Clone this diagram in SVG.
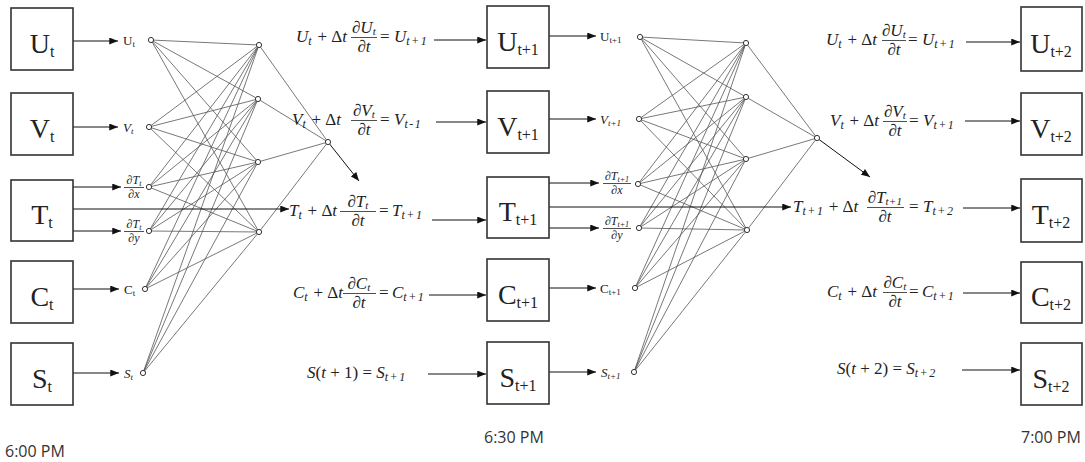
<svg xmlns="http://www.w3.org/2000/svg" width="1085" height="462" viewBox="0 0 1085 462">
<defs>
<marker id="ah" viewBox="0 0 10 8" markerWidth="9" markerHeight="7" refX="10" refY="4" orient="auto" markerUnits="userSpaceOnUse"><path d="M0,0L10,4L0,8z" fill="#111"/></marker>
<style>
.box rect{fill:#fff;stroke:#333;stroke-width:1.6}
.bl{font-family:"Liberation Serif",serif;font-size:28px;fill:#222}
.bl .s{font-size:16px}
.eq{font-family:"Liberation Serif",serif;font-style:italic;font-size:17px;fill:#222}
.eq .s{font-size:12px;letter-spacing:1.5px}
.eq .ns{font-size:11px;letter-spacing:0.3px}
.up{font-style:normal}
.lbl{font-family:"Liberation Serif",serif;font-size:13px;fill:#222}
.lbl .s{font-size:9px}
.fr{font-family:"Liberation Serif",serif;font-style:italic;font-size:12px;fill:#222}
.fr .s{font-size:8px}
.net{stroke:#555;stroke-width:0.8;fill:none}
.arr{stroke:#111;stroke-width:1;fill:none;marker-end:url(#ah)}
.nd{fill:#fff;stroke:#333;stroke-width:1}
.bar{stroke:#222;stroke-width:0.8}
.time{font-family:"Open Sans",sans-serif;font-size:16px;fill:#333}
</style>
</defs>
<rect width="1085" height="462" fill="#fff"/>

<g id="connectors">
<path class="net" d="M151 40L259 45M151 40L258 99M151 40L258 162M151 40L259 232"/>
<path class="net" d="M149 127L259 45M149 127L258 99M149 127L258 162M149 127L259 232"/>
<path class="net" d="M149 187L259 45M149 187L258 99M149 187L258 162M149 187L259 232"/>
<path class="net" d="M149 231L259 45M149 231L258 99M149 231L258 162M149 231L259 232"/>
<path class="net" d="M145 289L259 45M145 289L258 99M145 289L258 162M145 289L259 232"/>
<path class="net" d="M143 373L259 45M143 373L258 99M143 373L258 162M143 373L259 232"/>
<path class="net" d="M259 45L328 142M258 99L328 142M258 162L328 142M259 232L328 142"/>
<line class="arr" x1="328" y1="142" x2="359" y2="181"/>
<path class="net" d="M640 37L746 43M640 37L746 97M640 37L746 159M640 37L747 230"/>
<path class="net" d="M639 119L746 43M639 119L746 97M639 119L746 159M639 119L747 230"/>
<path class="net" d="M638 184L746 43M638 184L746 97M638 184L746 159M638 184L747 230"/>
<path class="net" d="M639 228L746 43M639 228L746 97M639 228L746 159M639 228L747 230"/>
<path class="net" d="M635 288L746 43M635 288L746 97M635 288L746 159M635 288L747 230"/>
<path class="net" d="M634 372L746 43M634 372L746 97M634 372L746 159M634 372L747 230"/>
<path class="net" d="M746 43L817 138M746 97L817 138M746 159L817 138M747 230L817 138"/>
<line class="arr" x1="817" y1="138" x2="870" y2="177"/>
<line class="arr" x1="73" y1="41" x2="118" y2="41"/>
<line class="arr" x1="73" y1="127" x2="118" y2="127"/>
<line class="arr" x1="73" y1="187" x2="121" y2="187"/>
<line class="arr" x1="73" y1="209" x2="289" y2="209"/>
<line class="arr" x1="73" y1="231" x2="121" y2="231"/>
<line class="arr" x1="73" y1="289" x2="119" y2="289"/>
<line class="arr" x1="73" y1="373" x2="119" y2="373"/>
<line class="arr" x1="434" y1="40" x2="486" y2="40"/>
<line class="arr" x1="436" y1="122" x2="486" y2="122"/>
<line class="arr" x1="432" y1="220" x2="486" y2="220"/>
<line class="arr" x1="429" y1="295" x2="486" y2="295"/>
<line class="arr" x1="428" y1="374" x2="486" y2="374"/>
<line class="arr" x1="549" y1="36" x2="596" y2="36"/>
<line class="arr" x1="549" y1="119" x2="596" y2="119"/>
<line class="arr" x1="549" y1="183" x2="599" y2="183"/>
<line class="arr" x1="549" y1="207" x2="791" y2="207"/>
<line class="arr" x1="549" y1="228" x2="599" y2="228"/>
<line class="arr" x1="549" y1="288" x2="596" y2="288"/>
<line class="arr" x1="549" y1="372" x2="596" y2="372"/>
<line class="arr" x1="966" y1="42" x2="1020" y2="42"/>
<line class="arr" x1="965" y1="121" x2="1020" y2="121"/>
<line class="arr" x1="963" y1="208" x2="1020" y2="208"/>
<line class="arr" x1="963" y1="293" x2="1020" y2="293"/>
<line class="arr" x1="962" y1="370" x2="1020" y2="370"/>
</g>

<g id="box-Ut" class="box"><rect x="11" y="8" width="62" height="62"/><text class="bl" x="42" y="53" text-anchor="middle">U<tspan class="s" dy="4">t</tspan></text></g>
<g id="box-Vt" class="box"><rect x="11" y="93" width="62" height="62"/><text class="bl" x="42" y="138" text-anchor="middle">V<tspan class="s" dy="4">t</tspan></text></g>
<g id="box-Tt" class="box"><rect x="11" y="180" width="62" height="61"/><text class="bl" x="42" y="224" text-anchor="middle">T<tspan class="s" dy="4">t</tspan></text></g>
<g id="box-Ct" class="box"><rect x="11" y="261" width="62" height="62"/><text class="bl" x="42" y="306" text-anchor="middle">C<tspan class="s" dy="4">t</tspan></text></g>
<g id="box-St" class="box"><rect x="11" y="343" width="62" height="62"/><text class="bl" x="42" y="388" text-anchor="middle">S<tspan class="s" dy="4">t</tspan></text></g>

<g id="box-Ut1" class="box"><rect x="487" y="6" width="62" height="62"/><text class="bl" x="518" y="51" text-anchor="middle">U<tspan class="s" dy="4">t+1</tspan></text></g>
<g id="box-Vt1" class="box"><rect x="487" y="91" width="62" height="62"/><text class="bl" x="518" y="136" text-anchor="middle">V<tspan class="s" dy="4">t+1</tspan></text></g>
<g id="box-Tt1" class="box"><rect x="487" y="177" width="62" height="61"/><text class="bl" x="518" y="221" text-anchor="middle">T<tspan class="s" dy="4">t+1</tspan></text></g>
<g id="box-Ct1" class="box"><rect x="487" y="259" width="62" height="62"/><text class="bl" x="518" y="304" text-anchor="middle">C<tspan class="s" dy="4">t+1</tspan></text></g>
<g id="box-St1" class="box"><rect x="487" y="342" width="62" height="62"/><text class="bl" x="518" y="387" text-anchor="middle">S<tspan class="s" dy="4">t+1</tspan></text></g>

<g id="box-Ut2" class="box"><rect x="1021" y="7" width="61" height="64"/><text class="bl" x="1051" y="53" text-anchor="middle">U<tspan class="s" dy="4">t+2</tspan></text></g>
<g id="box-Vt2" class="box"><rect x="1021" y="93" width="61" height="62"/><text class="bl" x="1051" y="138" text-anchor="middle">V<tspan class="s" dy="4">t+2</tspan></text></g>
<g id="box-Tt2" class="box"><rect x="1021" y="179" width="61" height="63"/><text class="bl" x="1051" y="224" text-anchor="middle">T<tspan class="s" dy="4">t+2</tspan></text></g>
<g id="box-Ct2" class="box"><rect x="1021" y="262" width="61" height="61"/><text class="bl" x="1051" y="306" text-anchor="middle">C<tspan class="s" dy="4">t+2</tspan></text></g>
<g id="box-St2" class="box"><rect x="1021" y="343" width="61" height="62"/><text class="bl" x="1051" y="388" text-anchor="middle">S<tspan class="s" dy="4">t+2</tspan></text></g>

<g id="in-U"><text class="lbl" x="123" y="45">U<tspan class="s" dy="2">t</tspan></text><circle class="nd" cx="151" cy="40" r="2.6"/></g>
<g id="in-V"><text class="lbl" x="123" y="132" font-style="italic">V<tspan class="s" dy="2">t</tspan></text><circle class="nd" cx="149" cy="127" r="2.6"/></g>
<g id="in-Tx"><text class="fr" x="134" y="184" text-anchor="middle">∂T<tspan class="s" dy="2">t</tspan></text><line class="bar" x1="124" y1="187.5" x2="144" y2="187.5"/><text class="fr" x="134" y="198" text-anchor="middle">∂x</text><circle class="nd" cx="149" cy="187" r="2.6"/></g>
<g id="in-Ty"><text class="fr" x="134" y="228" text-anchor="middle">∂T<tspan class="s" dy="2">t</tspan></text><line class="bar" x1="124" y1="231.5" x2="144" y2="231.5"/><text class="fr" x="134" y="242" text-anchor="middle">∂y</text><circle class="nd" cx="149" cy="231" r="2.6"/></g>
<g id="in-C"><text class="lbl" x="124" y="294">C<tspan class="s" dy="2">t</tspan></text><circle class="nd" cx="145" cy="289" r="2.6"/></g>
<g id="in-S"><text class="lbl" x="124" y="378" font-style="italic">S<tspan class="s" dy="2">t</tspan></text><circle class="nd" cx="143" cy="373" r="2.6"/></g>

<g id="h1"><circle class="nd" cx="259" cy="45" r="2.6"/></g>
<g id="h2"><circle class="nd" cx="258" cy="99" r="2.6"/></g>
<g id="h3"><circle class="nd" cx="258" cy="162" r="2.6"/></g>
<g id="h4"><circle class="nd" cx="259" cy="232" r="2.6"/></g>
<g id="out1"><circle class="nd" cx="328" cy="142" r="2.6"/></g>

<g id="in-U1"><text class="lbl" x="600" y="41">U<tspan class="s" dy="2">t+1</tspan></text><circle class="nd" cx="640" cy="37" r="2.6"/></g>
<g id="in-V1"><text class="lbl" x="600" y="124" font-style="italic">V<tspan class="s" dy="2">t+1</tspan></text><circle class="nd" cx="639" cy="119" r="2.6"/></g>
<g id="in-Tx1"><text class="fr" x="617" y="180" text-anchor="middle">∂T<tspan class="s" dy="2">t+1</tspan></text><line class="bar" x1="603" y1="183.5" x2="631" y2="183.5"/><text class="fr" x="617" y="194" text-anchor="middle">∂x</text><circle class="nd" cx="638" cy="184" r="2.6"/></g>
<g id="in-Ty1"><text class="fr" x="617" y="225" text-anchor="middle">∂T<tspan class="s" dy="2">t+1</tspan></text><line class="bar" x1="603" y1="228.5" x2="631" y2="228.5"/><text class="fr" x="617" y="239" text-anchor="middle">∂y</text><circle class="nd" cx="639" cy="228" r="2.6"/></g>
<g id="in-C1"><text class="lbl" x="600" y="293">C<tspan class="s" dy="2">t+1</tspan></text><circle class="nd" cx="635" cy="288" r="2.6"/></g>
<g id="in-S1"><text class="lbl" x="601" y="377" font-style="italic">S<tspan class="s" dy="2">t+1</tspan></text><circle class="nd" cx="634" cy="372" r="2.6"/></g>

<g id="h1b"><circle class="nd" cx="746" cy="43" r="2.6"/></g>
<g id="h2b"><circle class="nd" cx="746" cy="97" r="2.6"/></g>
<g id="h3b"><circle class="nd" cx="746" cy="159" r="2.6"/></g>
<g id="h4b"><circle class="nd" cx="747" cy="230" r="2.6"/></g>
<g id="out2"><circle class="nd" cx="817" cy="138" r="2.6"/></g>

<g id="eq-U1">
<text class="eq" x="296" y="42">U<tspan class="s" dy="3">t</tspan><tspan dy="-3" class="up"> + Δ</tspan>t</text>
<text class="eq" x="364" y="33" text-anchor="middle">∂U<tspan class="ns" dy="2">t</tspan></text>
<line class="bar" x1="351" y1="37.5" x2="377" y2="37.5"/>
<text class="eq" x="364" y="52" text-anchor="middle">∂t</text>
<text class="eq up" x="380" y="42">=</text>
<text class="eq" x="394" y="42">U<tspan class="s" dy="3">t+1</tspan></text>
</g>
<g id="eq-V1">
<text class="eq" x="292" y="125">V<tspan class="s" dy="3">t</tspan><tspan dy="-3" class="up"> + Δ</tspan>t</text>
<text class="eq" x="364" y="116" text-anchor="middle">∂V<tspan class="ns" dy="2">t</tspan></text>
<line class="bar" x1="351" y1="120.5" x2="377" y2="120.5"/>
<text class="eq" x="364" y="135" text-anchor="middle">∂t</text>
<text class="eq up" x="380" y="125">=</text>
<text class="eq" x="394" y="125">V<tspan class="s" dy="3">t-1</tspan></text>
</g>
<g id="eq-T1">
<text class="eq" x="289" y="216">T<tspan class="s" dy="3">t</tspan><tspan dy="-3" class="up"> + Δ</tspan>t</text>
<text class="eq" x="358" y="207" text-anchor="middle">∂T<tspan class="ns" dy="2">t</tspan></text>
<line class="bar" x1="340" y1="211.5" x2="376" y2="211.5"/>
<text class="eq" x="358" y="226" text-anchor="middle">∂t</text>
<text class="eq up" x="379" y="216">=</text>
<text class="eq" x="392" y="216">T<tspan class="s" dy="3">t+1</tspan></text>
</g>
<g id="eq-C1">
<text class="eq" x="293" y="298">C<tspan class="s" dy="3">t</tspan><tspan dy="-3" class="up"> + Δ</tspan>t</text>
<text class="eq" x="359" y="289" text-anchor="middle">∂C<tspan class="ns" dy="2">t</tspan></text>
<line class="bar" x1="343" y1="293.5" x2="376" y2="293.5"/>
<text class="eq" x="359" y="308" text-anchor="middle">∂t</text>
<text class="eq up" x="379" y="298">=</text>
<text class="eq" x="392" y="298">C<tspan class="s" dy="3">t+1</tspan></text>
</g>
<g id="eq-S1">
<text class="eq" x="307" y="378">S<tspan class="up">(</tspan>t<tspan class="up"> + 1) = </tspan>S<tspan class="s" dy="3">t+1</tspan></text>
</g>

<g id="eq-U2">
<text class="eq" x="826" y="45">U<tspan class="s" dy="3">t</tspan><tspan dy="-3" class="up"> + Δ</tspan>t</text>
<text class="eq" x="894" y="36" text-anchor="middle">∂U<tspan class="ns" dy="2">t</tspan></text>
<line class="bar" x1="882" y1="40.5" x2="906" y2="40.5"/>
<text class="eq" x="894" y="55" text-anchor="middle">∂t</text>
<text class="eq up" x="908" y="45">=</text>
<text class="eq" x="922" y="45">U<tspan class="s" dy="3">t+1</tspan></text>
</g>
<g id="eq-V2">
<text class="eq" x="830" y="126">V<tspan class="s" dy="3">t</tspan><tspan dy="-3" class="up"> + Δ</tspan>t</text>
<text class="eq" x="895" y="117" text-anchor="middle">∂V<tspan class="ns" dy="2">t</tspan></text>
<line class="bar" x1="883" y1="121.5" x2="907" y2="121.5"/>
<text class="eq" x="895" y="136" text-anchor="middle">∂t</text>
<text class="eq up" x="909" y="126">=</text>
<text class="eq" x="923" y="126">V<tspan class="s" dy="3">t+1</tspan></text>
</g>
<g id="eq-T2">
<text class="eq" x="793" y="212">T<tspan class="s" dy="3">t+1</tspan><tspan dy="-3" class="up"> + Δ</tspan>t</text>
<text class="eq" x="885" y="203" text-anchor="middle">∂T<tspan class="ns" dy="2">t+1</tspan></text>
<line class="bar" x1="867" y1="207.5" x2="904" y2="207.5"/>
<text class="eq" x="885" y="222" text-anchor="middle">∂t</text>
<text class="eq up" x="909" y="212">=</text>
<text class="eq" x="923" y="212">T<tspan class="s" dy="3">t+2</tspan></text>
</g>
<g id="eq-C2">
<text class="eq" x="827" y="297">C<tspan class="s" dy="3">t</tspan><tspan dy="-3" class="up"> + Δ</tspan>t</text>
<text class="eq" x="895" y="288" text-anchor="middle">∂C<tspan class="ns" dy="2">t</tspan></text>
<line class="bar" x1="883" y1="292.5" x2="907" y2="292.5"/>
<text class="eq" x="895" y="307" text-anchor="middle">∂t</text>
<text class="eq up" x="909" y="297">=</text>
<text class="eq" x="922" y="297">C<tspan class="s" dy="3">t+1</tspan></text>
</g>
<g id="eq-S2">
<text class="eq" x="837" y="374">S<tspan class="up">(</tspan>t<tspan class="up"> + 2) = </tspan>S<tspan class="s" dy="3">t+2</tspan></text>
</g>

<g id="times">
<text class="time" x="5" y="457">6:00 PM</text>
<text class="time" x="484" y="443">6:30 PM</text>
<text class="time" x="1021" y="443">7:00 PM</text>
</g>
</svg>
